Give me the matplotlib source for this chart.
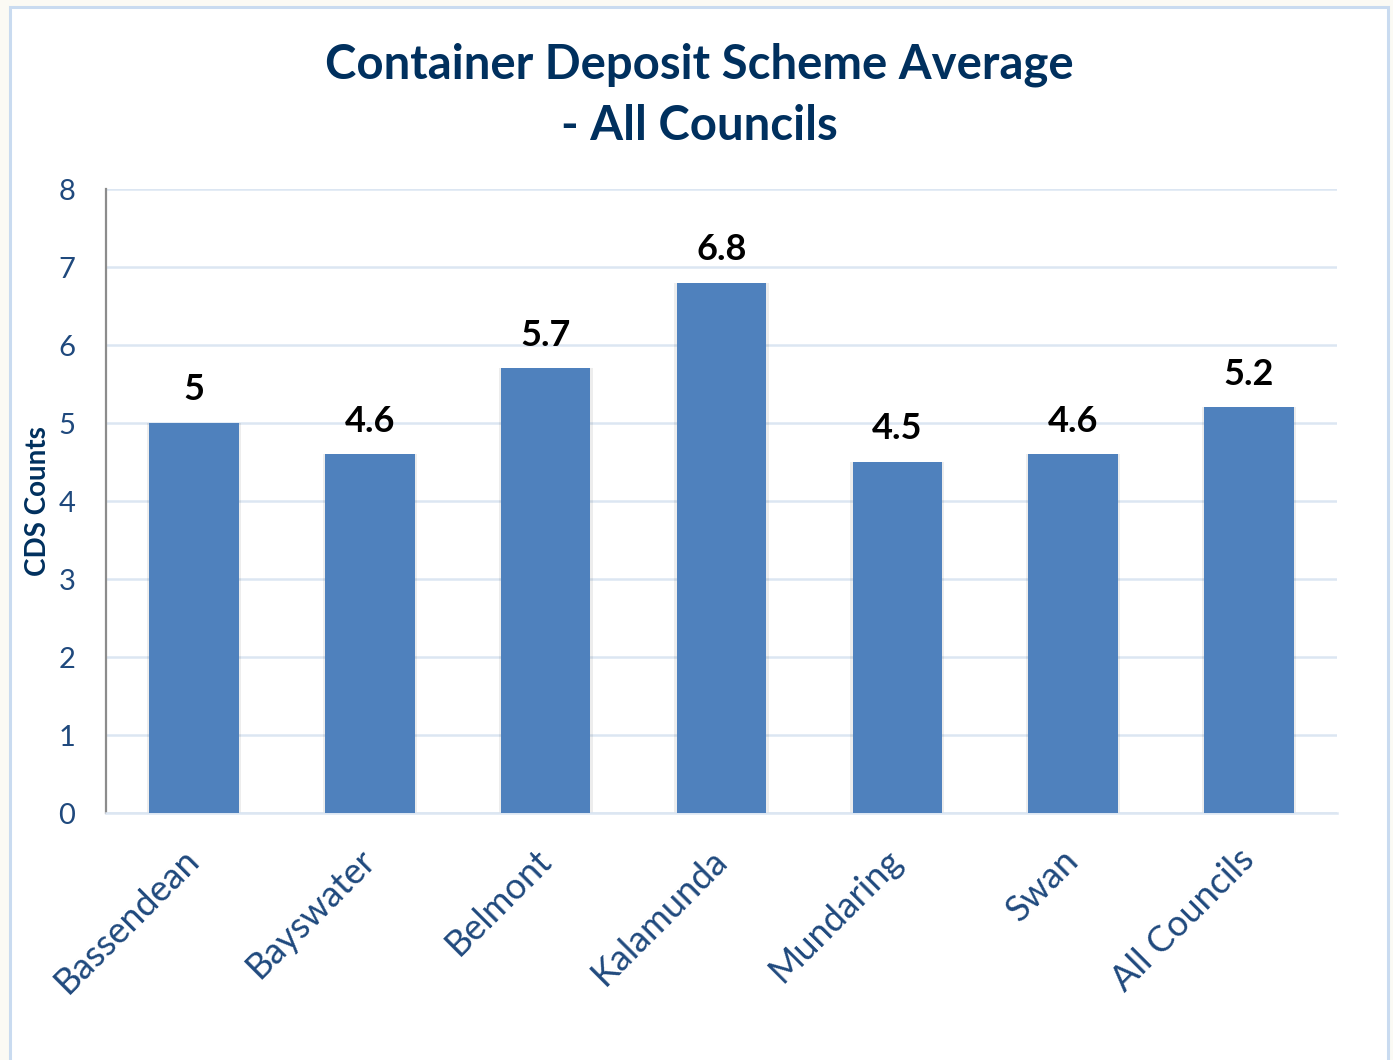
import matplotlib.pyplot as plt
from matplotlib.patches import Rectangle

councils = ["Bassendean", "Bayswater", "Belmont", "Kalamunda", "Mundaring", "Swan", "All Councils"]
cds_average = [5, 4.6, 5.7, 6.8, 4.5, 4.6, 5.2]
value_labels = ["5", "4.6", "5.7", "6.8", "4.5", "4.6", "5.2"]
y_ticks = [0, 1, 2, 3, 4, 5, 6, 7, 8]

BAR_BLUE = "#4F81BD"
NAVY = "#00305E"
TICK_BLUE = "#1F497D"
GRID_BLUE = "#DCE6F2"

plt.rcParams['font.family'] = ['Lato', 'DejaVu Sans']

fig = plt.figure(figsize=(13.93, 10.60), dpi=100)
fig.patch.set_facecolor("#FBFAF4")

# chart frame
frame = Rectangle((10 / 1393, -0.01), 1378 / 1393, 1 - 7 / 1060 + 0.01,
                  transform=fig.transFigure, facecolor="white",
                  edgecolor="#C9DBF0", lw=2.2, zorder=-10)
fig.patches.append(frame)

ax = fig.add_axes([106 / 1393, 1 - 813 / 1060, 1231 / 1393, 624 / 1060])
ax.set_facecolor("none")
ax.set_zorder(5)

x = range(len(councils))
# soft shadow behind the bars
ax.bar(x, cds_average, width=0.535, color="#000000", alpha=0.07, zorder=2)
ax.bar(x, cds_average, width=0.51, color=BAR_BLUE, zorder=3)

for xi, v, lab in zip(x, cds_average, value_labels):
    ax.annotate(lab, (xi, v), xytext=(0, 12), textcoords="offset points",
                ha="center", va="bottom", fontsize=26, fontweight="bold",
                color="black")

ax.set_xlim(-0.5, len(councils) - 0.5)
ax.set_ylim(0, 8)
ax.set_yticks(y_ticks)
ax.yaxis.grid(True, color=GRID_BLUE, lw=1.8, zorder=0)
ax.set_axisbelow(True)

for side in ["top", "right"]:
    ax.spines[side].set_visible(False)
ax.spines["left"].set_color("#8C8C8C")
ax.spines["left"].set_linewidth(1.6)
ax.spines["bottom"].set_color(GRID_BLUE)
ax.spines["bottom"].set_linewidth(1.8)

ax.tick_params(axis="y", length=0, pad=22, labelsize=21, labelcolor=TICK_BLUE)
ax.tick_params(axis="x", length=0, pad=30, labelsize=26, labelcolor=TICK_BLUE)
ax.set_xticks(list(x))
ax.set_xticklabels(councils, rotation=45, ha="right", va="center",
                   rotation_mode="anchor")

ax.set_ylabel("CDS Counts", fontsize=20, fontweight="bold", color=NAVY)
ax.yaxis.set_label_coords(-0.045, 0.5)

fig.text(0.502, 0.910, "Container Deposit Scheme Average\n- All Councils",
         ha="center", va="center", fontsize=34, fontweight="bold",
         color=NAVY, linespacing=1.47)

fig.savefig("out.png", dpi=100, facecolor=fig.get_facecolor())
